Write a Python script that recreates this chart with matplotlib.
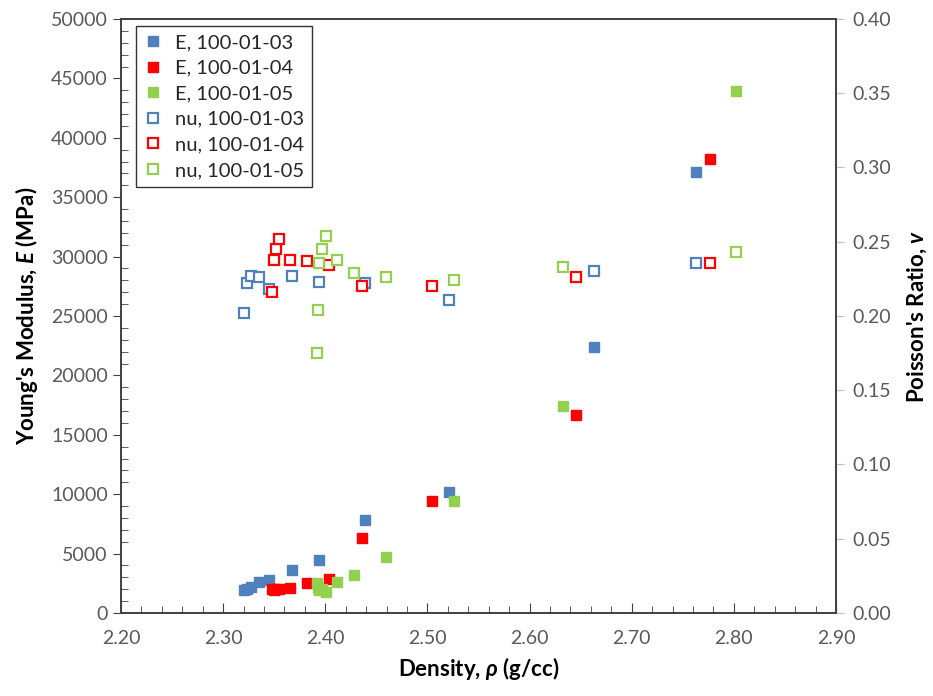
import matplotlib
matplotlib.use("Agg")
import matplotlib.pyplot as plt
from matplotlib.ticker import MultipleLocator, FormatStrFormatter

plt.rcParams['font.family'] = ['Lato', 'DejaVu Sans']
plt.rcParams['mathtext.fontset'] = 'custom'
plt.rcParams['mathtext.it'] = 'Lato:italic:bold'
plt.rcParams['mathtext.rm'] = 'Lato:bold'

# density (g/cc), Young's modulus (MPa) and Poisson's ratio per core
rho_03 = [2.320, 2.323, 2.327, 2.335, 2.345, 2.367, 2.394, 2.439, 2.521, 2.663, 2.763]
E_03 = [1900, 2000, 2200, 2600, 2800, 3600, 4450, 7800, 10200, 22400, 37100]
nu_03 = [0.202, 0.222, 0.227, 0.226, 0.218, 0.227, 0.223, 0.222, 0.211, 0.230, 0.236]

rho_04 = [2.348, 2.350, 2.352, 2.355, 2.365, 2.382, 2.404, 2.436, 2.504, 2.645, 2.777]
E_04 = [2000, 1900, 2000, 2000, 2100, 2500, 2900, 6300, 9400, 16700, 38200]
nu_04 = [0.216, 0.238, 0.245, 0.252, 0.238, 0.237, 0.234, 0.220, 0.220, 0.226, 0.236]

rho_05 = [2.392, 2.393, 2.394, 2.397, 2.401, 2.411, 2.428, 2.459, 2.526, 2.633, 2.802]
E_05 = [2500, 2100, 1900, 2000, 1800, 2600, 3200, 4700, 9400, 17400, 43900]
nu_05 = [0.175, 0.204, 0.236, 0.245, 0.254, 0.238, 0.229, 0.226, 0.224, 0.233, 0.243]

blue = '#4F81BD'
red = '#FF0000'
green = '#92D050'
ms = 7.5

fig = plt.figure(figsize=(9.33, 6.96), dpi=100)
ax = fig.add_axes([0.1297, 0.1193, 0.7663, 0.8534])
ax2 = ax.twinx()

h1, = ax.plot(rho_03, E_03, 's', color=blue, ms=ms, label='E, 100-01-03')
h2, = ax.plot(rho_04, E_04, 's', color=red, ms=ms, label='E, 100-01-04')
h3, = ax.plot(rho_05, E_05, 's', color=green, ms=ms, label='E, 100-01-05')
h4, = ax2.plot(rho_03, nu_03, 's', mfc='white', mec=blue, mew=1.6, ms=ms, label='nu, 100-01-03')
h5, = ax2.plot(rho_04, nu_04, 's', mfc='white', mec=red, mew=1.6, ms=ms, label='nu, 100-01-04')
h6, = ax2.plot(rho_05, nu_05, 's', mfc='white', mec=green, mew=1.6, ms=ms, label='nu, 100-01-05')

ax.set_xlim(2.2, 2.9)
ax.set_ylim(0, 50000)
ax2.set_ylim(0, 0.4)

ax.xaxis.set_major_locator(MultipleLocator(0.1))
ax.xaxis.set_minor_locator(MultipleLocator(0.02))
ax.xaxis.set_major_formatter(FormatStrFormatter('%.2f'))
ax.yaxis.set_major_locator(MultipleLocator(5000))
ax.yaxis.set_minor_locator(MultipleLocator(1000))
ax2.yaxis.set_major_locator(MultipleLocator(0.05))
ax2.yaxis.set_major_formatter(FormatStrFormatter('%.2f'))

tick_col = '#595959'
ax.tick_params(axis='x', which='both', direction='in', colors='#404040', labelcolor=tick_col,
               labelsize=14, pad=12)
ax.tick_params(axis='x', which='major', length=7)
ax.tick_params(axis='x', which='minor', length=5)
ax.tick_params(axis='y', which='major', direction='out', length=6, colors='#404040',
               labelcolor=tick_col, labelsize=14)
ax.tick_params(axis='y', which='minor', direction='in', length=5, colors='#404040')
ax2.tick_params(axis='y', which='major', direction='out', length=6, colors='#BFBFBF',
                labelcolor=tick_col, labelsize=14, pad=6)

for a in (ax, ax2):
    for s in a.spines.values():
        s.set_color('#404040')
        s.set_linewidth(1.2)

ax.set_xlabel(r'Density, $\rho$ (g/cc)', fontsize=16, fontweight='bold', labelpad=6)
ax.set_ylabel("Young's Modulus, $\\it{E}$ (MPa)", fontsize=16, fontweight='bold', labelpad=8)
ax2.set_ylabel("Poisson's Ratio, $\\it{v}$", fontsize=16, fontweight='bold', labelpad=10)

leg = ax.legend(handles=[h1, h2, h3, h4, h5, h6], loc='upper left', bbox_to_anchor=(0.016, 0.995),
                fontsize=14.5, frameon=True, fancybox=False, borderpad=0.4, labelspacing=0.42,
                handlelength=0.8, handletextpad=0.7, borderaxespad=0.2)
leg.get_frame().set_edgecolor('black')
leg.get_frame().set_linewidth(1.0)
for t in leg.get_texts():
    t.set_color('#262626')

fig.savefig('out.png', dpi=100)
